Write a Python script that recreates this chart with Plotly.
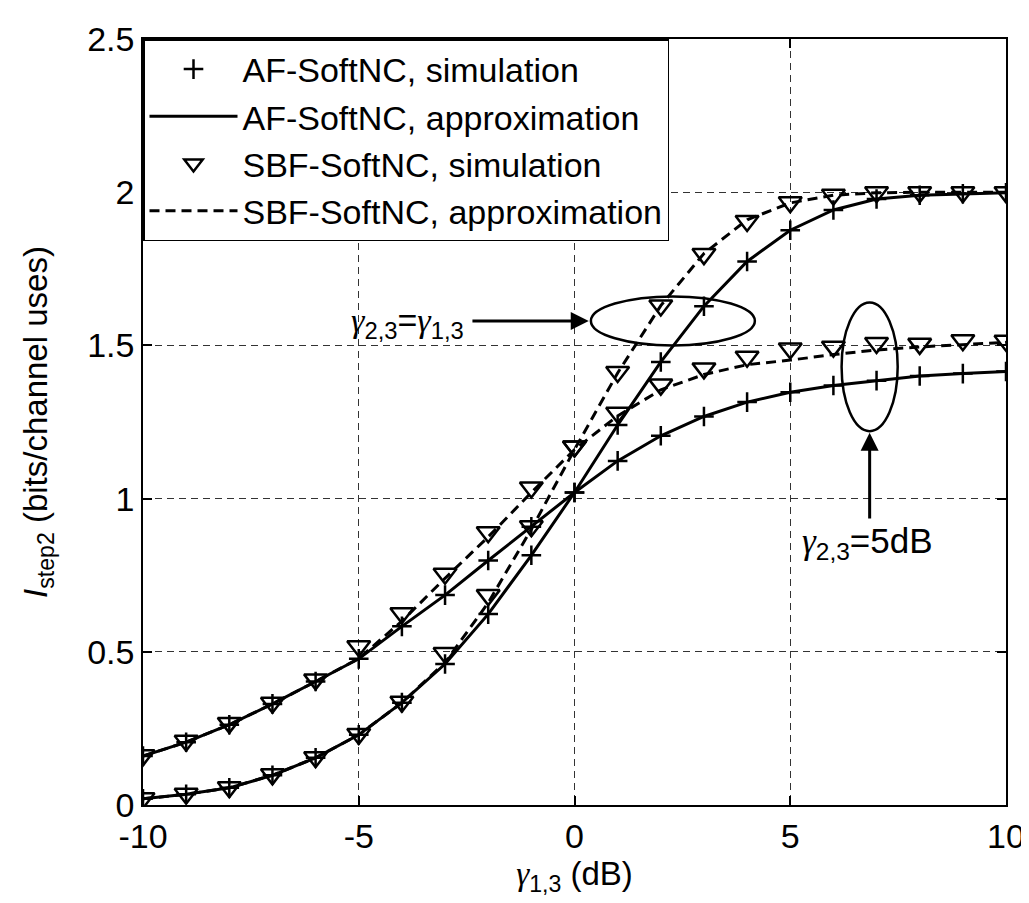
import plotly.graph_objects as go

# ---------------- data ----------------
snr_db = [-10, -9, -8, -7, -6, -5, -4, -3, -2, -1, 0, 1, 2, 3, 4, 5, 6, 7, 8, 9, 10]

# gamma_{2,3} = gamma_{1,3}
af_sim_eq = [0.02, 0.035, 0.056, 0.097, 0.154, 0.229, 0.334, 0.46, 0.623, 0.815, 1.02,
             1.24, 1.446, 1.628, 1.774, 1.876, 1.942, 1.978, 1.99, 1.995, 1.998]
af_apx_eq = [0.02, 0.035, 0.056, 0.097, 0.154, 0.229, 0.334, 0.46, 0.623, 0.815, 1.02,
             1.24, 1.446, 1.628, 1.774, 1.876, 1.942, 1.978, 1.99, 1.995, 1.998]
sbf_sim_eq = [0.022, 0.037, 0.058, 0.1, 0.156, 0.232, 0.337, 0.496, 0.685, 0.91, 1.17,
              1.413, 1.63, 1.798, 1.906, 1.967, 1.992, 2.0, 2.0, 2.0, 2.0]
sbf_apx_eq = [0.02, 0.035, 0.056, 0.097, 0.154, 0.229, 0.334, 0.465, 0.66, 0.9, 1.16,
              1.41, 1.63, 1.8, 1.91, 1.965, 1.99, 1.998, 2.0, 2.0, 2.0]

# gamma_{2,3} = 5 dB
af_sim_5 = [0.16, 0.205, 0.262, 0.33, 0.403, 0.477, 0.583, 0.685, 0.798, 0.908, 1.02,
            1.123, 1.205, 1.268, 1.315, 1.347, 1.369, 1.385, 1.40, 1.408, 1.415]
af_apx_5 = [0.16, 0.205, 0.262, 0.33, 0.403, 0.477, 0.583, 0.685, 0.798, 0.908, 1.02,
            1.123, 1.205, 1.268, 1.315, 1.347, 1.369, 1.385, 1.40, 1.408, 1.415]
sbf_sim_5 = [0.162, 0.21, 0.268, 0.334, 0.41, 0.518, 0.626, 0.755, 0.89, 1.036, 1.17,
             1.28, 1.372, 1.425, 1.463, 1.49, 1.496, 1.508, 1.505, 1.517, 1.515]
sbf_apx_5 = [0.16, 0.205, 0.262, 0.33, 0.403, 0.478, 0.60, 0.74, 0.875, 1.02, 1.16,
             1.27, 1.355, 1.405, 1.437, 1.452, 1.47, 1.485, 1.495, 1.503, 1.51]

x_ticks = [-10, -5, 0, 5, 10]
y_ticks = [0, 0.5, 1, 1.5, 2, 2.5]
y_tick_text = ["0", "0.5", "1", "1.5", "2", "2.5"]

names = ["AF-SoftNC, simulation", "AF-SoftNC, approximation",
         "SBF-SoftNC, simulation", "SBF-SoftNC, approximation"]

# annotation geometry (data units)
ell_eq = dict(cx=2.28, cy=1.58, rx=1.9, ry=0.08)
ell_5 = dict(cx=6.84, cy=1.43, rx=0.65, ry=0.21)

FONT = "Liberation Sans, Arial, sans-serif"
G = "<span style=\"font-family:'Liberation Serif', serif\"><i>γ</i></span>"

fig = go.Figure()

# approximation lines
for apx, dash, nm, show in [(af_apx_eq, "solid", names[1], True),
                            (af_apx_5, "solid", names[1], False),
                            (sbf_apx_eq, "10px,6px", names[3], True),
                            (sbf_apx_5, "10px,6px", names[3], False)]:
    fig.add_trace(go.Scatter(x=snr_db, y=apx, mode="lines", name=nm, legendgroup=nm,
                             showlegend=show,
                             line=dict(color="black", width=3, dash=dash)))

# simulation markers
for sim, sym, size, nm, show in [(af_sim_eq, "cross-thin", 14, names[0], True),
                                 (af_sim_5, "cross-thin", 14, names[0], False),
                                 (sbf_sim_eq, "triangle-down-open", 20, names[2], True),
                                 (sbf_sim_5, "triangle-down-open", 20, names[2], False)]:
    fig.add_trace(go.Scatter(x=snr_db, y=sim, mode="markers", name=nm, legendgroup=nm,
                             showlegend=show,
                             marker=dict(symbol=sym, size=size, color="black",
                                         line=dict(color="black", width=2.5))))

# legend order: AF sim, AF approx, SBF sim, SBF approx
rank = {names[0]: 1, names[1]: 2, names[2]: 3, names[3]: 4}
for tr in fig.data:
    tr.legendrank = rank[tr.name]

# ellipses
for e in (ell_eq, ell_5):
    fig.add_shape(type="circle", xref="x", yref="y",
                  x0=e["cx"] - e["rx"], x1=e["cx"] + e["rx"],
                  y0=e["cy"] - e["ry"], y1=e["cy"] + e["ry"],
                  line=dict(color="black", width=2.5))

# arrow 1 (horizontal)
fig.add_annotation(x=ell_eq["cx"] - ell_eq["rx"] - 0.05, y=ell_eq["cy"],
                   ax=-2.4, ay=ell_eq["cy"], xref="x", yref="y", axref="x", ayref="y",
                   showarrow=True, arrowhead=2, arrowsize=1.2, arrowwidth=3,
                   arrowcolor="black", text="")
fig.add_annotation(x=-3.86, y=1.575, xref="x", yref="y", showarrow=False,
                   text=f"{G}<sub>2,3</sub>={G}<sub>1,3</sub>",
                   font=dict(family=FONT, size=34, color="black"))
# arrow 2 (vertical)
fig.add_annotation(x=ell_5["cx"], y=ell_5["cy"] - ell_5["ry"] - 0.005,
                   ax=ell_5["cx"], ay=0.93, xref="x", yref="y", axref="x", ayref="y",
                   showarrow=True, arrowhead=2, arrowsize=1.2, arrowwidth=3,
                   arrowcolor="black", text="")
fig.add_annotation(x=6.79, y=0.855, xref="x", yref="y", showarrow=False,
                   text=f"{G}<sub>2,3</sub>=5dB",
                   font=dict(family=FONT, size=35, color="black"))

axis_common = dict(showline=True, linecolor="black", linewidth=1.5, mirror="allticks",
                   ticks="inside", ticklen=9, tickcolor="black", tickwidth=1.5,
                   showgrid=True, gridcolor="#333333", gridwidth=1, griddash="7px,5px",
                   zeroline=False, tickfont=dict(family=FONT, size=34, color="black"))

fig.update_xaxes(range=[-10, 10], tickvals=x_ticks, ticktext=[str(v) for v in x_ticks],
                 title=dict(text=f"{G}<sub>1,3</sub> (dB)", standoff=8,
                            font=dict(family=FONT, size=33, color="black")),
                 **axis_common)
fig.update_yaxes(range=[0, 2.5], tickvals=y_ticks, ticktext=y_tick_text,
                 title=dict(text="<i>I</i><sub>step2</sub> (bits/channel uses)", standoff=30,
                            font=dict(family=FONT, size=33, color="black")),
                 **axis_common)

fig.update_layout(
    width=1029, height=903,
    margin=dict(l=135, r=26, t=25, b=106, pad=0),
    paper_bgcolor="white", plot_bgcolor="white",
    font=dict(family=FONT, color="black"),
    legend=dict(x=0, y=1, xanchor="left", yanchor="top", bgcolor="white",
                bordercolor="black", borderwidth=1.5, tracegroupgap=0,
                itemwidth=88, font=dict(family=FONT, size=34, color="black")),
)

fig.write_html("out.html")
